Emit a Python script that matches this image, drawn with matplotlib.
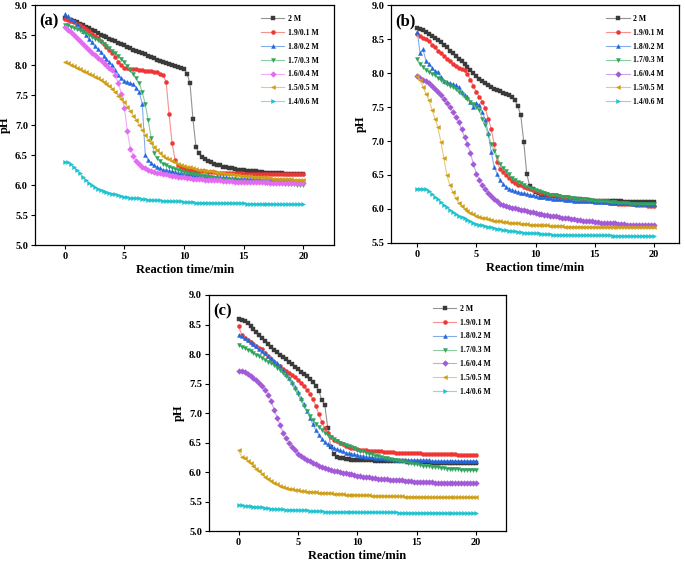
import numpy as np
import matplotlib
matplotlib.use("Agg")
import matplotlib.pyplot as plt
from matplotlib.colors import to_rgb

plt.rcParams['font.family'] = ['Liberation Serif', 'DejaVu Serif']
plt.rcParams['font.weight'] = 'bold'
plt.rcParams['axes.labelweight'] = 'bold'

# time axis (min)
t = np.arange(0, 20.001, 0.25)

labels = ['2 M', '1.9/0.1 M', '1.8/0.2 M', '1.7/0.3 M', '1.6/0.4 M', '1.5/0.5 M', '1.4/0.6 M']
xticks = [0, 5, 10, 15, 20]

# ---------------- panel (a) ----------------
a_2M = [8.78, 8.76, 8.75, 8.73, 8.71, 8.69, 8.67, 8.64, 8.62, 8.59, 8.57, 8.54,
        8.51, 8.49, 8.47, 8.44, 8.42, 8.40, 8.37, 8.35, 8.33, 8.31, 8.28, 8.26,
        8.24, 8.22, 8.20, 8.18, 8.16, 8.14, 8.12, 8.09, 8.07, 8.06, 8.04, 8.02,
        8.01, 7.99, 7.97, 7.96, 7.94, 7.86, 7.70, 7.10, 6.64, 6.53, 6.47, 6.43,
        6.40, 6.38, 6.36, 6.34, 6.33, 6.31, 6.30, 6.29, 6.28, 6.27, 6.26, 6.25,
        6.25, 6.24, 6.24, 6.23, 6.23, 6.22, 6.22, 6.21, 6.21, 6.21, 6.20, 6.20,
        6.20, 6.20, 6.19, 6.19, 6.19, 6.19, 6.18, 6.18, 6.18]
a_19 = [8.77, 8.75, 8.73, 8.71, 8.69, 8.66, 8.63, 8.60, 8.56, 8.52, 8.49, 8.45,
        8.41, 8.36, 8.31, 8.26, 8.20, 8.14, 8.06, 8.00, 7.96, 7.95, 7.94, 7.93,
        7.93, 7.92, 7.92, 7.91, 7.91, 7.90, 7.89, 7.88, 7.86, 7.83, 7.72, 7.18,
        6.70, 6.42, 6.34, 6.30, 6.28, 6.27, 6.26, 6.25, 6.24, 6.24, 6.23, 6.23,
        6.22, 6.22, 6.22, 6.21, 6.21, 6.21, 6.21, 6.20, 6.20, 6.20, 6.20, 6.20,
        6.19, 6.19, 6.19, 6.19, 6.19, 6.19, 6.19, 6.18, 6.18, 6.18, 6.18, 6.18,
        6.18, 6.18, 6.18, 6.18, 6.18, 6.18, 6.18, 6.18, 6.18]
a_18 = [8.85, 8.81, 8.77, 8.73, 8.68, 8.62, 8.56, 8.50, 8.44, 8.38, 8.32, 8.27,
        8.22, 8.16, 8.10, 8.05, 8.00, 7.92, 7.84, 7.78, 7.74, 7.72, 7.70, 7.68,
        7.62, 7.55, 7.35, 6.51, 6.42, 6.37, 6.33, 6.30, 6.28, 6.26, 6.25, 6.24,
        6.23, 6.22, 6.21, 6.20, 6.19, 6.18, 6.18, 6.17, 6.17, 6.16, 6.16, 6.15,
        6.15, 6.14, 6.14, 6.14, 6.13, 6.13, 6.13, 6.12, 6.12, 6.12, 6.11, 6.11,
        6.11, 6.11, 6.10, 6.10, 6.10, 6.10, 6.09, 6.09, 6.09, 6.09, 6.08, 6.08,
        6.08, 6.08, 6.08, 6.08, 6.07, 6.07, 6.07, 6.07, 6.07]
a_17 = [8.67, 8.66, 8.64, 8.62, 8.60, 8.58, 8.55, 8.53, 8.50, 8.47, 8.44, 8.42,
        8.39, 8.36, 8.32, 8.28, 8.24, 8.20, 8.15, 8.10, 8.05, 7.98, 7.92, 7.85,
        7.78, 7.70, 7.55, 7.35, 7.08, 6.78, 6.53, 6.45, 6.40, 6.36, 6.33, 6.31,
        6.29, 6.27, 6.25, 6.24, 6.22, 6.21, 6.20, 6.19, 6.18, 6.17, 6.16, 6.15,
        6.14, 6.13, 6.12, 6.12, 6.11, 6.10, 6.10, 6.09, 6.09, 6.08, 6.08, 6.07,
        6.07, 6.06, 6.06, 6.06, 6.05, 6.05, 6.05, 6.04, 6.04, 6.04, 6.03, 6.03,
        6.03, 6.03, 6.02, 6.02, 6.02, 6.02, 6.01, 6.01, 6.01]
a_16 = [8.63, 8.59, 8.55, 8.50, 8.45, 8.40, 8.35, 8.30, 8.25, 8.21, 8.17, 8.12,
        8.08, 8.04, 8.00, 7.96, 7.92, 7.83, 7.70, 7.52, 7.29, 6.90, 6.61, 6.49,
        6.40, 6.35, 6.31, 6.28, 6.26, 6.24, 6.22, 6.21, 6.20, 6.19, 6.18, 6.17,
        6.16, 6.15, 6.14, 6.14, 6.13, 6.12, 6.12, 6.11, 6.11, 6.10, 6.10, 6.09,
        6.09, 6.09, 6.08, 6.08, 6.08, 6.07, 6.07, 6.07, 6.07, 6.06, 6.06, 6.06,
        6.06, 6.06, 6.05, 6.05, 6.05, 6.05, 6.05, 6.05, 6.05, 6.04, 6.04, 6.04,
        6.04, 6.04, 6.04, 6.04, 6.04, 6.04, 6.04, 6.04, 6.04]
a_15 = [8.05, 8.03, 8.00, 7.98, 7.95, 7.93, 7.91, 7.88, 7.86, 7.83, 7.81, 7.78,
        7.75, 7.72, 7.68, 7.65, 7.61, 7.55, 7.49, 7.44, 7.38, 7.31, 7.23, 7.16,
        7.08, 7.00, 6.92, 6.83, 6.76, 6.70, 6.64, 6.58, 6.53, 6.49, 6.46, 6.43,
        6.41, 6.38, 6.36, 6.34, 6.32, 6.31, 6.30, 6.28, 6.27, 6.26, 6.25, 6.24,
        6.24, 6.23, 6.22, 6.21, 6.21, 6.20, 6.19, 6.19, 6.18, 6.17, 6.17, 6.16,
        6.16, 6.15, 6.15, 6.14, 6.14, 6.13, 6.13, 6.13, 6.12, 6.12, 6.11, 6.11,
        6.11, 6.10, 6.10, 6.10, 6.10, 6.09, 6.09, 6.09, 6.09]
a_14 = [6.39, 6.38, 6.35, 6.30, 6.25, 6.20, 6.14, 6.09, 6.04, 6.00, 5.97, 5.94,
        5.92, 5.90, 5.88, 5.87, 5.86, 5.85, 5.83, 5.82, 5.81, 5.80, 5.79, 5.79,
        5.78, 5.78, 5.77, 5.77, 5.76, 5.76, 5.75, 5.75, 5.75, 5.74, 5.74, 5.74,
        5.73, 5.73, 5.73, 5.73, 5.72, 5.72, 5.72, 5.72, 5.71, 5.71, 5.71, 5.71,
        5.71, 5.71, 5.70, 5.70, 5.70, 5.70, 5.70, 5.70, 5.70, 5.70, 5.70, 5.70,
        5.70, 5.69, 5.69, 5.69, 5.69, 5.69, 5.69, 5.69, 5.69, 5.69, 5.68, 5.68,
        5.68, 5.68, 5.68, 5.68, 5.68, 5.68, 5.68, 5.68, 5.68]

# ---------------- panel (b) ----------------
b_2M = [8.67, 8.65, 8.63, 8.60, 8.58, 8.55, 8.52, 8.49, 8.46, 8.42, 8.38, 8.33,
        8.29, 8.25, 8.21, 8.18, 8.14, 8.09, 8.04, 8.00, 7.95, 7.91, 7.88, 7.85,
        7.82, 7.80, 7.77, 7.75, 7.73, 7.71, 7.69, 7.67, 7.65, 7.60, 7.51, 7.38,
        6.99, 6.52, 6.34, 6.29, 6.25, 6.23, 6.21, 6.20, 6.19, 6.18, 6.18, 6.17,
        6.17, 6.16, 6.16, 6.15, 6.15, 6.14, 6.14, 6.14, 6.13, 6.13, 6.13, 6.12,
        6.12, 6.12, 6.12, 6.12, 6.11, 6.11, 6.11, 6.11, 6.11, 6.11, 6.10, 6.10,
        6.10, 6.10, 6.10, 6.10, 6.10, 6.10, 6.10, 6.10, 6.10]
b_19 = [8.58, 8.55, 8.52, 8.50, 8.47, 8.42, 8.38, 8.33, 8.29, 8.25, 8.21, 8.17,
        8.14, 8.11, 8.08, 8.06, 8.04, 7.98, 7.90, 7.81, 7.72, 7.65, 7.58, 7.48,
        7.33, 7.18, 6.96, 6.69, 6.59, 6.54, 6.50, 6.45, 6.41, 6.38, 6.36, 6.35,
        6.33, 6.31, 6.29, 6.28, 6.26, 6.25, 6.24, 6.23, 6.22, 6.21, 6.20, 6.20,
        6.19, 6.18, 6.17, 6.17, 6.16, 6.15, 6.15, 6.14, 6.14, 6.13, 6.13, 6.12,
        6.12, 6.11, 6.11, 6.10, 6.10, 6.09, 6.09, 6.09, 6.08, 6.08, 6.08, 6.07,
        6.07, 6.07, 6.06, 6.06, 6.06, 6.06, 6.05, 6.05, 6.05]
b_18 = [8.61, 8.29, 8.35, 8.17, 8.14, 8.08, 8.03, 8.02, 7.94, 7.89, 7.87, 7.85,
        7.84, 7.82, 7.79, 7.72, 7.67, 7.65, 7.58, 7.50, 7.56, 7.53, 7.43, 7.31,
        7.12, 6.84, 6.62, 6.52, 6.42, 6.37, 6.33, 6.30, 6.28, 6.26, 6.25, 6.24,
        6.23, 6.22, 6.21, 6.20, 6.19, 6.18, 6.17, 6.17, 6.16, 6.16, 6.15, 6.15,
        6.14, 6.14, 6.13, 6.13, 6.13, 6.12, 6.12, 6.12, 6.11, 6.11, 6.11, 6.11,
        6.10, 6.10, 6.10, 6.10, 6.10, 6.09, 6.09, 6.09, 6.09, 6.09, 6.09, 6.09,
        6.09, 6.08, 6.08, 6.08, 6.08, 6.08, 6.08, 6.08, 6.08]
b_17 = [8.20, 8.14, 8.09, 8.05, 8.02, 7.99, 7.97, 7.93, 7.90, 7.87, 7.84, 7.81,
        7.79, 7.76, 7.72, 7.69, 7.65, 7.62, 7.58, 7.54, 7.50, 7.45, 7.33, 7.23,
        7.09, 6.96, 6.86, 6.77, 6.66, 6.61, 6.56, 6.51, 6.46, 6.43, 6.40, 6.38,
        6.35, 6.33, 6.31, 6.29, 6.28, 6.26, 6.25, 6.24, 6.22, 6.21, 6.20, 6.20,
        6.19, 6.18, 6.17, 6.17, 6.16, 6.16, 6.15, 6.15, 6.14, 6.14, 6.13, 6.13,
        6.12, 6.12, 6.11, 6.11, 6.11, 6.10, 6.10, 6.10, 6.09, 6.09, 6.09, 6.09,
        6.08, 6.08, 6.08, 6.08, 6.07, 6.07, 6.07, 6.07, 6.07]
b_16 = [7.96, 7.93, 7.90, 7.88, 7.85, 7.81, 7.77, 7.72, 7.67, 7.62, 7.56, 7.50,
        7.43, 7.36, 7.28, 7.17, 7.06, 6.96, 6.82, 6.66, 6.52, 6.43, 6.35, 6.29,
        6.24, 6.19, 6.15, 6.11, 6.08, 6.06, 6.04, 6.03, 6.02, 6.01, 6.00, 5.99,
        5.98, 5.97, 5.96, 5.95, 5.94, 5.93, 5.92, 5.91, 5.91, 5.90, 5.89, 5.89,
        5.88, 5.87, 5.87, 5.86, 5.85, 5.85, 5.84, 5.84, 5.83, 5.83, 5.82, 5.82,
        5.81, 5.81, 5.80, 5.80, 5.80, 5.79, 5.79, 5.79, 5.78, 5.78, 5.78, 5.77,
        5.77, 5.77, 5.77, 5.76, 5.76, 5.76, 5.76, 5.76, 5.76]
b_15 = [7.95, 7.90, 7.79, 7.69, 7.60, 7.46, 7.33, 7.20, 6.99, 6.75, 6.50, 6.36,
        6.25, 6.16, 6.09, 6.04, 6.00, 5.97, 5.94, 5.92, 5.90, 5.88, 5.87, 5.86,
        5.85, 5.84, 5.83, 5.82, 5.82, 5.81, 5.81, 5.80, 5.80, 5.79, 5.79, 5.78,
        5.78, 5.78, 5.77, 5.77, 5.77, 5.76, 5.76, 5.76, 5.76, 5.75, 5.75, 5.75,
        5.75, 5.75, 5.74, 5.74, 5.74, 5.74, 5.74, 5.74, 5.74, 5.73, 5.73, 5.73,
        5.73, 5.73, 5.73, 5.73, 5.73, 5.73, 5.73, 5.73, 5.73, 5.73, 5.73, 5.73,
        5.73, 5.73, 5.73, 5.73, 5.73, 5.73, 5.73, 5.73, 5.73]
b_14 = [6.30, 6.30, 6.30, 6.29, 6.26, 6.22, 6.18, 6.14, 6.10, 6.06, 6.03, 5.99,
        5.96, 5.93, 5.90, 5.88, 5.86, 5.84, 5.82, 5.80, 5.78, 5.77, 5.76, 5.75,
        5.74, 5.73, 5.72, 5.71, 5.70, 5.69, 5.69, 5.68, 5.67, 5.67, 5.66, 5.66,
        5.65, 5.65, 5.65, 5.64, 5.64, 5.64, 5.63, 5.63, 5.63, 5.63, 5.62, 5.62,
        5.62, 5.62, 5.62, 5.62, 5.62, 5.61, 5.61, 5.61, 5.61, 5.61, 5.61, 5.61,
        5.61, 5.61, 5.61, 5.61, 5.61, 5.61, 5.60, 5.60, 5.60, 5.60, 5.60, 5.60,
        5.60, 5.60, 5.60, 5.60, 5.60, 5.60, 5.60, 5.60, 5.60]

# ---------------- panel (c) ----------------
c_2M = [8.59, 8.58, 8.56, 8.52, 8.47, 8.42, 8.37, 8.32, 8.27, 8.22, 8.17, 8.12,
        8.07, 8.03, 7.99, 7.95, 7.91, 7.87, 7.83, 7.78, 7.74, 7.70, 7.66, 7.62,
        7.57, 7.52, 7.46, 7.38, 7.22, 7.14, 6.75, 6.43, 6.30, 6.26, 6.24, 6.23,
        6.22, 6.22, 6.21, 6.21, 6.21, 6.21, 6.20, 6.20, 6.20, 6.20, 6.19, 6.19,
        6.19, 6.19, 6.19, 6.18, 6.18, 6.18, 6.18, 6.18, 6.18, 6.17, 6.17, 6.17,
        6.17, 6.17, 6.17, 6.17, 6.17, 6.16, 6.16, 6.16, 6.16, 6.16, 6.16, 6.16,
        6.16, 6.16, 6.16, 6.16, 6.16, 6.16, 6.16, 6.16, 6.16]
c_19 = [8.47, 8.33, 8.27, 8.24, 8.20, 8.17, 8.14, 8.11, 8.08, 8.02, 7.97, 7.91,
        7.86, 7.82, 7.79, 7.75, 7.71, 7.68, 7.65, 7.61, 7.56, 7.51, 7.45, 7.39,
        7.32, 7.23, 7.12, 6.98, 6.85, 6.74, 6.66, 6.60, 6.55, 6.52, 6.49, 6.47,
        6.45, 6.43, 6.41, 6.40, 6.39, 6.38, 6.37, 6.37, 6.36, 6.36, 6.35, 6.35,
        6.35, 6.34, 6.34, 6.34, 6.34, 6.33, 6.33, 6.33, 6.33, 6.32, 6.32, 6.32,
        6.32, 6.32, 6.31, 6.31, 6.31, 6.31, 6.31, 6.30, 6.30, 6.30, 6.30, 6.30,
        6.30, 6.30, 6.29, 6.29, 6.29, 6.29, 6.29, 6.29, 6.29]
c_18 = [8.32, 8.30, 8.27, 8.23, 8.20, 8.17, 8.13, 8.09, 8.05, 8.01, 7.97, 7.93,
        7.89, 7.84, 7.79, 7.73, 7.66, 7.59, 7.52, 7.44, 7.35, 7.25, 7.15, 7.03,
        6.92, 6.81, 6.71, 6.63, 6.56, 6.51, 6.47, 6.44, 6.41, 6.39, 6.37, 6.35,
        6.33, 6.32, 6.31, 6.30, 6.29, 6.28, 6.27, 6.26, 6.25, 6.25, 6.24, 6.24,
        6.23, 6.23, 6.22, 6.22, 6.22, 6.21, 6.21, 6.21, 6.21, 6.20, 6.20, 6.20,
        6.20, 6.20, 6.20, 6.20, 6.20, 6.19, 6.19, 6.19, 6.19, 6.19, 6.19, 6.19,
        6.19, 6.19, 6.19, 6.19, 6.19, 6.19, 6.19, 6.19, 6.19]
c_17 = [8.15, 8.12, 8.10, 8.07, 8.05, 8.02, 7.99, 7.96, 7.93, 7.90, 7.87, 7.84,
        7.81, 7.77, 7.73, 7.68, 7.63, 7.57, 7.50, 7.41, 7.32, 7.22, 7.12, 7.03,
        6.95, 6.88, 6.82, 6.77, 6.72, 6.67, 6.63, 6.59, 6.56, 6.53, 6.50, 6.48,
        6.46, 6.44, 6.42, 6.40, 6.38, 6.36, 6.35, 6.33, 6.31, 6.30, 6.28, 6.27,
        6.26, 6.24, 6.23, 6.22, 6.21, 6.20, 6.19, 6.18, 6.17, 6.16, 6.15, 6.14,
        6.13, 6.12, 6.11, 6.11, 6.10, 6.09, 6.09, 6.08, 6.07, 6.07, 6.06, 6.06,
        6.05, 6.05, 6.05, 6.04, 6.04, 6.04, 6.03, 6.03, 6.03]
c_16 = [7.72, 7.71, 7.69, 7.66, 7.63, 7.60, 7.56, 7.51, 7.45, 7.39, 7.31, 7.20,
        7.05, 6.92, 6.79, 6.67, 6.57, 6.50, 6.43, 6.37, 6.31, 6.27, 6.23, 6.21,
        6.18, 6.15, 6.13, 6.11, 6.09, 6.07, 6.05, 6.04, 6.02, 6.01, 6.00, 5.99,
        5.98, 5.97, 5.96, 5.95, 5.94, 5.93, 5.92, 5.92, 5.91, 5.90, 5.90, 5.89,
        5.89, 5.88, 5.88, 5.87, 5.87, 5.86, 5.86, 5.86, 5.85, 5.85, 5.85, 5.84,
        5.84, 5.84, 5.83, 5.83, 5.83, 5.83, 5.82, 5.82, 5.82, 5.82, 5.82, 5.82,
        5.82, 5.81, 5.81, 5.81, 5.81, 5.81, 5.81, 5.81, 5.81]
c_15 = [6.37, 6.26, 6.23, 6.19, 6.15, 6.11, 6.06, 6.02, 5.97, 5.92, 5.88, 5.85,
        5.82, 5.79, 5.77, 5.75, 5.73, 5.72, 5.71, 5.70, 5.69, 5.68, 5.68, 5.67,
        5.67, 5.66, 5.67, 5.65, 5.65, 5.64, 5.64, 5.64, 5.63, 5.63, 5.63, 5.63,
        5.62, 5.62, 5.62, 5.62, 5.62, 5.61, 5.61, 5.61, 5.61, 5.60, 5.60, 5.60,
        5.60, 5.59, 5.59, 5.59, 5.59, 5.59, 5.59, 5.59, 5.58, 5.58, 5.58, 5.58,
        5.58, 5.58, 5.58, 5.58, 5.58, 5.57, 5.57, 5.57, 5.57, 5.57, 5.57, 5.57,
        5.57, 5.57, 5.57, 5.57, 5.57, 5.57, 5.57, 5.57, 5.57]
c_14 = [5.44, 5.44, 5.43, 5.43, 5.42, 5.41, 5.41, 5.40, 5.40, 5.39, 5.39, 5.38,
        5.38, 5.37, 5.37, 5.37, 5.36, 5.36, 5.36, 5.35, 5.35, 5.35, 5.35, 5.35,
        5.34, 5.34, 5.34, 5.34, 5.34, 5.33, 5.33, 5.33, 5.33, 5.33, 5.33, 5.33,
        5.33, 5.33, 5.33, 5.33, 5.32, 5.32, 5.32, 5.32, 5.32, 5.32, 5.32, 5.32,
        5.32, 5.32, 5.32, 5.32, 5.32, 5.32, 5.31, 5.31, 5.31, 5.31, 5.31, 5.31,
        5.31, 5.31, 5.31, 5.31, 5.31, 5.31, 5.31, 5.31, 5.31, 5.31, 5.30, 5.30,
        5.30, 5.30, 5.30, 5.30, 5.30, 5.30, 5.30, 5.30, 5.30]

markers = ['s', 'o', '^', 'v', 'D', '<', '>']
colors_a = ['#3a3a3a', '#f03535', '#2266dd', '#2ea35a', '#e46af2', '#cf9d12', '#17c3cf']
colors_bc = ['#3a3a3a', '#f03535', '#2266dd', '#2ea35a', '#a35ad8', '#cf9d12', '#17c3cf']


def lighten(c, f=0.5):
    r, g, b = to_rgb(c)
    return (r + (1 - r) * f, g + (1 - g) * f, b + (1 - b) * f)


fig = plt.figure(figsize=(6.85, 5.65), dpi=100)

panels = [
    ([0.051, 0.566, 0.437, 0.425], [a_2M, a_19, a_18, a_17, a_16, a_15, a_14],
     colors_a, (5.0, 9.0), (-2.5, 22.6), '(a)'),
    ([0.571, 0.570, 0.420, 0.421], [b_2M, b_19, b_18, b_17, b_16, b_15, b_14],
     colors_bc, (5.5, 9.0), (-2.2, 22.1), '(b)'),
    ([0.305, 0.0600, 0.4336, 0.4179], [c_2M, c_19, c_18, c_17, c_16, c_15, c_14],
     colors_bc, (5.0, 9.0), (-2.5, 22.5), '(c)'),
]

for rect, series, cols, ylim, xlim, tag in panels:
    ax = fig.add_axes(rect)
    for vals, lab, col, mk in zip(series, labels, cols, markers):
        ax.plot(t[:len(vals)], vals[:len(t)], color=lighten(col, 0.45), lw=0.8,
                marker=mk, ms=2.9, mfc=col, mec=col, mew=0.3, label=lab)
    ax.set_xlim(*xlim)
    ax.set_ylim(*ylim)
    ax.set_xticks(xticks)
    ax.set_yticks(np.arange(ylim[0], ylim[1] + 0.01, 0.5))
    ax.yaxis.set_major_formatter(matplotlib.ticker.FormatStrFormatter('%.1f'))
    ax.tick_params(direction='out', length=3, width=0.8, labelsize=7.5, pad=2)
    for sp in ax.spines.values():
        sp.set_linewidth(0.9)
    ax.set_xlabel('Reaction time/min', fontsize=9, labelpad=2)
    ax.set_ylabel('pH', fontsize=9, labelpad=3)
    ax.text(0.015, 0.965, tag, transform=ax.transAxes, fontsize=12,
            fontweight='bold', va='top', ha='left')
    ax.legend(loc='upper right', bbox_to_anchor=(0.955, 0.965), frameon=False,
              fontsize=5.6, handlelength=3.0, labelspacing=0.75,
              handletextpad=0.5, borderaxespad=0, borderpad=0.2)

fig.savefig('out.png', dpi=100)
